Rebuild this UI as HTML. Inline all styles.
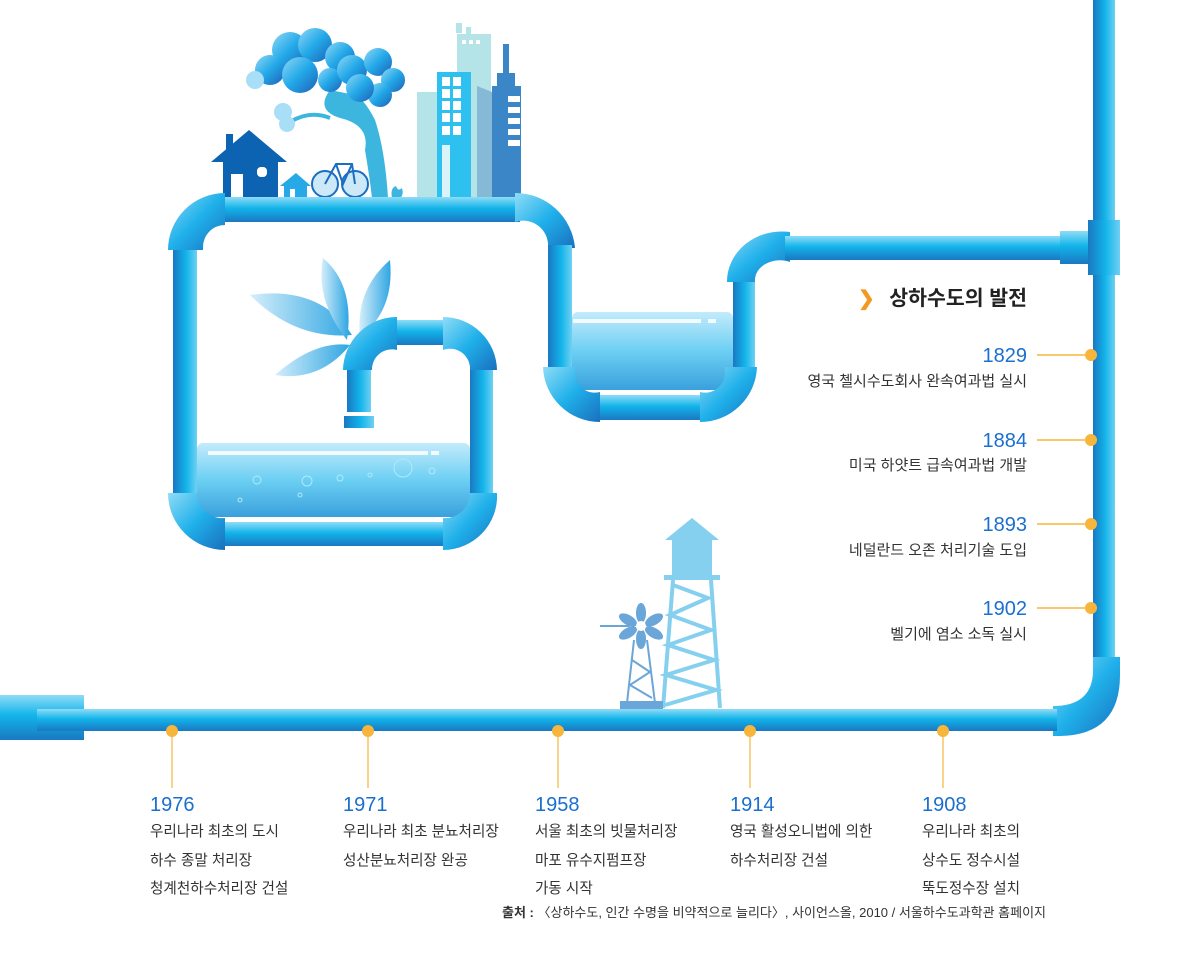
<!DOCTYPE html>
<html><head><meta charset="utf-8"><style>
html,body{margin:0;padding:0;background:#fff;}
svg{display:block;}
text{font-family:"Liberation Sans","Noto Sans CJK KR",sans-serif;}
.yr{font-size:20px;fill:#1a6fcf;}
.tx{font-size:14.6px;fill:#333;}
.tr{font-size:15px;fill:#333;}
</style></head><body>
<svg width="1200" height="974" viewBox="0 0 1200 974" xmlns="http://www.w3.org/2000/svg">
<defs>
<linearGradient id="h" x1="0" y1="0" x2="0" y2="1"><stop offset="0" stop-color="#8fdcf7"/><stop offset=".45" stop-color="#12b4ea"/><stop offset="1" stop-color="#1a78c2"/></linearGradient>
<linearGradient id="v" x1="0" y1="0" x2="1" y2="0"><stop offset="0" stop-color="#1a78c2"/><stop offset=".55" stop-color="#12b4ea"/><stop offset="1" stop-color="#6fd0f3"/></linearGradient>
<linearGradient id="e" x1="0" y1="0" x2="1" y2="1"><stop offset="0" stop-color="#8fdcf7"/><stop offset=".5" stop-color="#1fb0ea"/><stop offset="1" stop-color="#1a70be"/></linearGradient>
<linearGradient id="w" x1="0" y1="0" x2="0" y2="1"><stop offset="0" stop-color="#c3ebfb"/><stop offset=".5" stop-color="#6ccff3"/><stop offset="1" stop-color="#3aa0dc"/></linearGradient>
<linearGradient id="lf" x1="0" y1="0" x2="1" y2="0"><stop offset="0" stop-color="#d4eefb"/><stop offset="1" stop-color="#2fa6e2"/></linearGradient>
<linearGradient id="cl" x1="0" y1="0" x2="1" y2="1"><stop offset="0" stop-color="#8fd8f6"/><stop offset=".5" stop-color="#22a8e8"/><stop offset="1" stop-color="#1f5fb6"/></linearGradient>
</defs>

<!-- top illustration -->
<g>
<rect x="417" y="92" width="20" height="106" fill="#b4e3e8"/>
<rect x="457" y="34" width="34" height="164" fill="#b4e3e8"/>
<rect x="456" y="23" width="6" height="10" fill="#b4e3e8"/><rect x="466" y="27" width="5" height="7" fill="#b4e3e8"/>
<rect x="462" y="40" width="4" height="4" fill="#fff"/><rect x="469" y="40" width="4" height="4" fill="#fff"/><rect x="476" y="40" width="4" height="4" fill="#fff"/>
<rect x="437" y="72" width="34" height="126" fill="#2ec0ee"/>
<g fill="#fff"><rect x="442" y="77" width="8" height="9"/><rect x="453" y="77" width="8" height="9"/><rect x="442" y="89" width="8" height="9"/><rect x="453" y="89" width="8" height="9"/><rect x="442" y="101" width="8" height="9"/><rect x="453" y="101" width="8" height="9"/><rect x="442" y="113" width="8" height="9"/><rect x="453" y="113" width="8" height="9"/><rect x="442" y="126" width="8" height="9"/><rect x="453" y="126" width="8" height="9"/></g>
<rect x="442" y="145" width="8" height="53" fill="#d9f3f8"/>
<polygon points="477,86 492,92 492,198 477,198" fill="#86b9d6"/>
<rect x="492" y="86" width="29" height="112" fill="#3a86c6"/>
<rect x="503" y="44" width="6" height="44" fill="#3a86c6"/><rect x="497" y="73" width="18" height="14" fill="#3a86c6"/>
<g fill="#fff"><rect x="508" y="96" width="12" height="6"/><rect x="508" y="107" width="12" height="6"/><rect x="508" y="118" width="12" height="6"/><rect x="508" y="129" width="12" height="6"/><rect x="508" y="140" width="12" height="6"/></g>
<!-- tree -->
<path d="M330 90 Q315 110 340 118 Q370 125 365 150 Q370 180 372 198 L388 198 Q385 150 375 120 Q365 100 355 95 Z" fill="#3cb6de"/>
<path d="M290 122 Q310 110 330 118" stroke="#3cb6de" stroke-width="4" fill="none"/>
<g fill="url(#cl)">
<circle cx="290" cy="50" r="18"/><circle cx="315" cy="45" r="17"/><circle cx="340" cy="57" r="15"/><circle cx="270" cy="70" r="15"/><circle cx="300" cy="75" r="18"/><circle cx="330" cy="80" r="12"/>
<circle cx="352" cy="70" r="15"/><circle cx="378" cy="62" r="14"/><circle cx="393" cy="80" r="12"/><circle cx="380" cy="95" r="12"/><circle cx="360" cy="88" r="14"/>
</g>
<circle cx="255" cy="80" r="9" fill="#a8def6"/>
<circle cx="283" cy="112" r="9" fill="#a8def6"/><circle cx="287" cy="124" r="8" fill="#a8def6"/>
<!-- houses -->
<polygon points="211,162 249,130 287,162" fill="#0b63b2"/>
<rect x="223" y="160" width="55" height="38" fill="#0b63b2"/>
<rect x="226" y="134" width="7" height="16" fill="#0b63b2"/>
<rect x="231" y="174" width="12" height="24" fill="#fff"/>
<rect x="257" y="167" width="10" height="10" rx="4" fill="#fff"/>
<polygon points="280,186 296,173 311,186" fill="#27a9e8"/>
<rect x="284" y="185" width="23" height="13" fill="#27a9e8"/><rect x="290" y="189" width="5" height="9" fill="#fff"/>
<!-- bike -->
<g stroke="#1b6fc2" stroke-width="2" fill="#cde9f8"><circle cx="325" cy="184" r="13"/><circle cx="355" cy="184" r="13"/></g>
<path d="M325 184 L336 164 L352 164 L355 184 M336 164 L343 184 L352 164" stroke="#1b6fc2" stroke-width="2" fill="none"/>
<path d="M392 198 Q390 188 396 186 Q398 192 402 188 Q404 195 400 198Z" fill="#3cb6de"/>
</g>

<!-- big loop -->
<rect x="225" y="197" width="295" height="25" fill="url(#h)"/>
<rect x="173" y="247" width="24" height="246" fill="url(#v)"/>
<rect x="470" y="370" width="23" height="123" fill="url(#v)"/>
<rect x="197" y="443" width="273" height="74" rx="6" fill="url(#w)"/>
<rect x="208" y="451" width="220" height="4" fill="#f2fbff"/><rect x="431" y="451" width="8" height="4" fill="#f2fbff"/>
<g fill="none" stroke="#aeeafb" stroke-width="1"><circle cx="403" cy="468" r="9"/><circle cx="257" cy="480" r="4"/><circle cx="307" cy="481" r="5"/><circle cx="340" cy="478" r="3"/><circle cx="432" cy="471" r="3"/><circle cx="370" cy="475" r="2"/><circle cx="240" cy="500" r="2"/><circle cx="300" cy="495" r="2"/></g>
<rect x="225" y="522" width="220" height="24" fill="url(#h)"/>
<path d="M168,250 A57,57 0 0 1 225,193 L225,225 A22,22 0 0 0 203,247 L203,250 Z" fill="url(#e)"/>
<path d="M168,493 L197,493 A25,25 0 0 0 225,518 L225,550 A57,57 0 0 1 168,493 Z" fill="url(#e)"/>
<path d="M443,518 A25,25 0 0 0 470,493 L497,493 A54,54 0 0 1 443,550 Z" fill="url(#e)"/>
<path d="M515,193 A60,60 0 0 1 575,248 L548,248 A25,25 0 0 0 515,222 Z" fill="url(#e)"/>
<!-- leaves -->
<path d="M250 295 Q320 285 352 335 Q295 340 250 295Z" fill="url(#lf)"/>
<path d="M275 375 Q315 340 350 345 Q320 382 275 375Z" fill="url(#lf)"/>
<path d="M323 258 Q355 285 347 340 Q315 300 323 258Z" fill="url(#lf)"/>
<path d="M390 260 Q395 310 360 337 Q355 290 390 260Z" fill="url(#lf)"/>
<!-- faucet -->
<rect x="397" y="320" width="46" height="25" fill="url(#h)"/>
<path d="M343,370 A54,54 0 0 1 397,317 L397,350 A20,20 0 0 0 372,370 Z" fill="url(#e)"/>
<path d="M443,317 A54,54 0 0 1 497,370 L470,370 A20,20 0 0 0 443,350 Z" fill="url(#e)"/>
<rect x="347" y="370" width="24" height="42" fill="url(#v)"/>
<rect x="344" y="416" width="30" height="12" fill="url(#v)"/>

<!-- tank -->
<rect x="548" y="245" width="24" height="122" fill="url(#v)"/>
<rect x="733" y="282" width="22" height="88" fill="url(#v)"/>
<rect x="572" y="312" width="161" height="78" rx="6" fill="url(#w)"/>
<rect x="573" y="319" width="128" height="4" fill="#f2fbff"/><rect x="708" y="319" width="8" height="4" fill="#f2fbff"/>
<rect x="600" y="395" width="100" height="25" fill="url(#h)"/>
<path d="M543,367 L575,367 L575,375 A20,20 0 0 0 600,392 L600,422 A57,57 0 0 1 543,367 Z" fill="url(#e)"/>
<path d="M700,392 A20,20 0 0 0 725,372 L725,367 L757,367 A57,57 0 0 1 700,422 Z" fill="url(#e)"/>
<path d="M727,282 A55,50 0 0 1 790,232 L790,262 A25,20 0 0 0 755,282 Z" fill="url(#e)"/>
<rect x="785" y="236" width="280" height="24" fill="url(#h)"/>
<rect x="1060" y="231" width="30" height="33" fill="url(#h)"/>

<!-- right vertical -->
<rect x="1093" y="0" width="22" height="670" fill="url(#v)"/>
<rect x="1088" y="220" width="32" height="55" fill="url(#v)"/>
<path d="M1093,657 L1120,657 L1120,675 Q1120,735 1060,736 L1053,736 L1053,706 Q1093,706 1093,670 Z" fill="url(#e)"/>

<!-- bottom pipe -->
<rect x="0" y="695" width="84" height="45" fill="url(#h)"/>
<rect x="37" y="709" width="1020" height="22" fill="url(#h)"/>

<!-- tower + windmill -->
<g fill="#86d0ef">
<polygon points="665,540 692,518 719,540"/><rect x="672" y="539" width="40" height="36"/><rect x="664" y="575" width="56" height="5"/>
</g>
<g stroke="#86d0ef" stroke-width="4" fill="none">
<path d="M673 580 L663 708 M711 580 L720 708 M673 585 L708 598 L670 615 L711 630 L668 645 L714 660 L666 675 L716 690 L665 705"/>
</g>
<g stroke="#6aa6d8" stroke-width="2" fill="none"><path d="M634 640 L627 703 M647 640 L655 703 M632 660 L650 672 L630 685 L652 698"/><path d="M600 626 L630 626"/></g>
<g fill="#6aa6d8">
<ellipse cx="641" cy="613" rx="5" ry="10"/><ellipse cx="641" cy="639" rx="5" ry="10"/><ellipse cx="628" cy="620" rx="10" ry="5" transform="rotate(30 628 620)"/><ellipse cx="654" cy="620" rx="10" ry="5" transform="rotate(-30 654 620)"/><ellipse cx="628" cy="633" rx="10" ry="5" transform="rotate(-30 628 633)"/><ellipse cx="654" cy="633" rx="10" ry="5" transform="rotate(30 654 633)"/>
<rect x="620" y="701" width="43" height="8"/></g>
<circle cx="641" cy="626" r="5" fill="#fff"/>

<!-- right timeline -->
<text x="858" y="305" font-size="20" fill="#f29a1f" font-weight="bold">❯</text>
<text x="1027" y="305" text-anchor="end" font-size="20.5" font-weight="bold" fill="#222">상하수도의 발전</text>
<g stroke="#f7b53b" stroke-width="1.5"><line x1="1037" y1="355" x2="1091" y2="355"/><line x1="1037" y1="440" x2="1091" y2="440"/><line x1="1037" y1="524" x2="1091" y2="524"/><line x1="1037" y1="608" x2="1091" y2="608"/></g>
<g fill="#f7b53b"><circle cx="1091" cy="355" r="6"/><circle cx="1091" cy="440" r="6"/><circle cx="1091" cy="524" r="6"/><circle cx="1091" cy="608" r="6"/></g>
<g text-anchor="end">
<text class="yr" x="1027" y="362">1829</text><text class="tr" x="1027" y="386">영국 첼시수도회사 완속여과법 실시</text>
<text class="yr" x="1027" y="447">1884</text><text class="tr" x="1027" y="470">미국 하얏트 급속여과법 개발</text>
<text class="yr" x="1027" y="531">1893</text><text class="tr" x="1027" y="555">네덜란드 오존 처리기술 도입</text>
<text class="yr" x="1027" y="615">1902</text><text class="tr" x="1027" y="639">벨기에 염소 소독 실시</text>
</g>

<!-- bottom timeline -->
<g stroke="#f7b53b" stroke-width="1.2"><line x1="172" y1="731" x2="172" y2="788"/><line x1="368" y1="731" x2="368" y2="788"/><line x1="558" y1="731" x2="558" y2="788"/><line x1="750" y1="731" x2="750" y2="788"/><line x1="943" y1="731" x2="943" y2="788"/></g>
<g fill="#f7b53b"><circle cx="172" cy="731" r="6"/><circle cx="368" cy="731" r="6"/><circle cx="558" cy="731" r="6"/><circle cx="750" cy="731" r="6"/><circle cx="943" cy="731" r="6"/></g>
<text class="yr" x="150" y="811">1976</text>
<text class="tx" x="150" y="836">우리나라 최초의 도시</text><text class="tx" x="150" y="865">하수 종말 처리장</text><text class="tx" x="150" y="893">청계천하수처리장 건설</text>
<text class="yr" x="343" y="811">1971</text>
<text class="tx" x="343" y="836">우리나라 최초 분뇨처리장</text><text class="tx" x="343" y="865">성산분뇨처리장 완공</text>
<text class="yr" x="535" y="811">1958</text>
<text class="tx" x="535" y="836">서울 최초의 빗물처리장</text><text class="tx" x="535" y="865">마포 유수지펌프장</text><text class="tx" x="535" y="893">가동 시작</text>
<text class="yr" x="730" y="811">1914</text>
<text class="tx" x="730" y="836">영국 활성오니법에 의한</text><text class="tx" x="730" y="865">하수처리장 건설</text>
<text class="yr" x="922" y="811">1908</text>
<text class="tx" x="922" y="836">우리나라 최초의</text><text class="tx" x="922" y="865">상수도 정수시설</text><text class="tx" x="922" y="893">뚝도정수장 설치</text>
<text x="502" y="917" font-size="13" fill="#333"><tspan font-weight="bold">출처 : </tspan>〈상하수도, 인간 수명을 비약적으로 늘리다〉, 사이언스올, 2010 / 서울하수도과학관 홈페이지</text>
</svg>
</body></html>
